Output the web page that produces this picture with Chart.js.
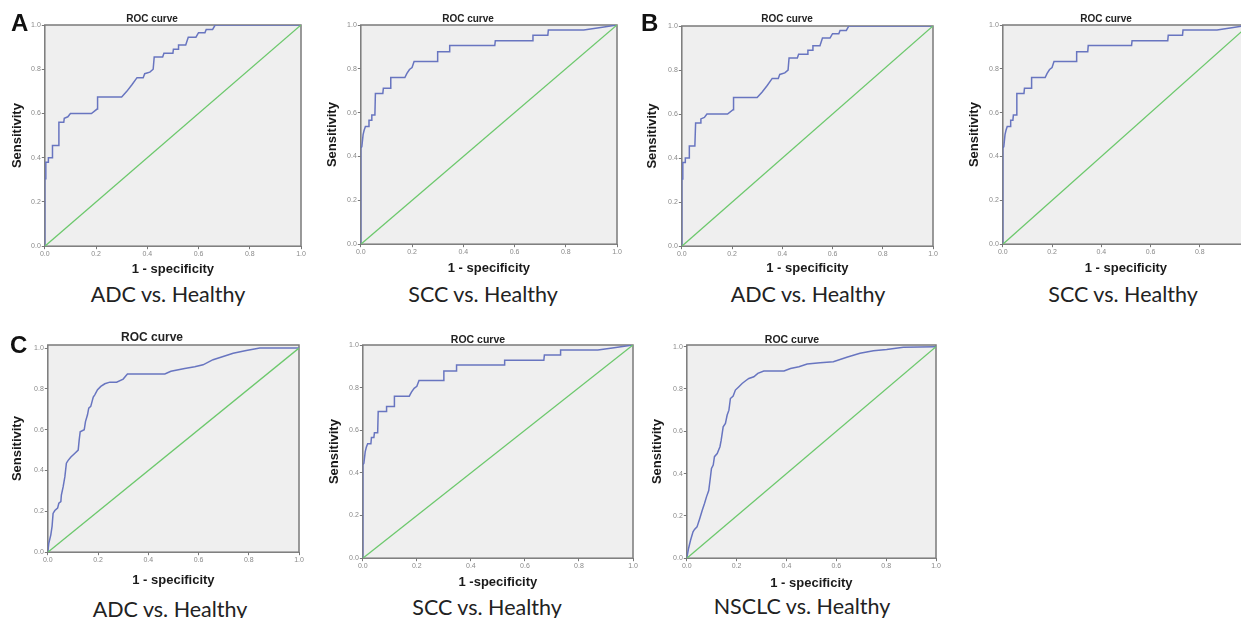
<!DOCTYPE html>
<html>
<head>
<meta charset="utf-8">
<script src="https://cdn.jsdelivr.net/npm/chart.js@4.4.1/dist/chart.umd.min.js"></script>
<style>
  html, body { margin: 0; padding: 0; overflow: hidden; }
  body { width: 1241px; height: 618px; background: #fff; position: relative; font-family: "Liberation Sans", Arial, sans-serif; }
  canvas { position: absolute; }
  .letter { position: absolute; font-weight: bold; font-size: 24px; line-height: 24px; color: #111; }
  .roc { position: absolute; font-weight: bold; color: #222; transform: translate(-50%, -50%); white-space: nowrap; line-height: 1; }
  .cap { position: absolute; font-family: Lato, "Open Sans", sans-serif; font-size: 21.5px; line-height: 1; color: #222; transform: translate(-50%, -50%); white-space: nowrap; }
</style>
</head>
<body>
<script>
// ROC curves: x = 1 - specificity, y = sensitivity
var adc_fpr = [0, 0, 0.004, 0.004, 0.014, 0.014, 0.03, 0.03, 0.052, 0.055, 0.074, 0.076, 0.09, 0.1, 0.182, 0.204, 0.206, 0.30, 0.32, 0.34, 0.36, 0.384, 0.39, 0.41, 0.423, 0.427, 0.46, 0.465, 0.50, 0.502, 0.52, 0.522, 0.55, 0.56, 0.59, 0.60, 0.625, 0.63, 0.655, 0.665, 1.0];
var adc_tpr = [0, 0.305, 0.305, 0.38, 0.38, 0.40, 0.40, 0.455, 0.455, 0.56, 0.56, 0.578, 0.585, 0.60, 0.60, 0.62, 0.675, 0.675, 0.70, 0.73, 0.762, 0.762, 0.78, 0.787, 0.80, 0.855, 0.855, 0.872, 0.872, 0.89, 0.89, 0.91, 0.91, 0.945, 0.945, 0.965, 0.965, 0.98, 0.98, 1.0, 1.0];

var scc_fpr = [0, 0, 0.004, 0.009, 0.013, 0.018, 0.03, 0.032, 0.041, 0.043, 0.055, 0.057, 0.086, 0.088, 0.116, 0.117, 0.172, 0.18, 0.19, 0.2, 0.208, 0.298, 0.30, 0.345, 0.347, 0.523, 0.525, 0.67, 0.672, 0.73, 0.732, 0.87, 0.93, 1.0];
var scc_tpr = [0, 0.438, 0.445, 0.50, 0.52, 0.537, 0.537, 0.566, 0.566, 0.589, 0.589, 0.688, 0.688, 0.711, 0.711, 0.76, 0.76, 0.779, 0.797, 0.806, 0.833, 0.833, 0.878, 0.878, 0.906, 0.906, 0.928, 0.928, 0.953, 0.953, 0.977, 0.977, 0.987, 1.0];

var adc_all_fpr = [0, 0.004, 0.012, 0.017, 0.021, 0.028, 0.039, 0.044, 0.052, 0.054, 0.061, 0.068, 0.074, 0.081, 0.092, 0.108, 0.121, 0.125, 0.129, 0.145, 0.15, 0.158, 0.163, 0.171, 0.181, 0.187, 0.198, 0.211, 0.227, 0.247, 0.274, 0.30, 0.317, 0.466, 0.49, 0.545, 0.585, 0.618, 0.658, 0.698, 0.738, 0.79, 0.844, 1.0];
var adc_all_tpr = [0, 0.044, 0.085, 0.126, 0.19, 0.204, 0.216, 0.24, 0.248, 0.28, 0.32, 0.37, 0.436, 0.45, 0.466, 0.485, 0.50, 0.55, 0.59, 0.60, 0.64, 0.673, 0.706, 0.714, 0.76, 0.771, 0.796, 0.812, 0.825, 0.833, 0.833, 0.848, 0.873, 0.873, 0.886, 0.90, 0.908, 0.918, 0.943, 0.959, 0.975, 0.988, 1.0, 1.0];

var nsclc_fpr = [0, 0.007, 0.015, 0.025, 0.031, 0.041, 0.052, 0.062, 0.071, 0.079, 0.088, 0.095, 0.099, 0.106, 0.111, 0.122, 0.133, 0.138, 0.146, 0.155, 0.162, 0.169, 0.175, 0.186, 0.195, 0.209, 0.222, 0.236, 0.249, 0.269, 0.285, 0.309, 0.39, 0.416, 0.45, 0.483, 0.535, 0.588, 0.642, 0.695, 0.749, 0.802, 0.869, 1.0];
var nsclc_tpr = [0, 0.046, 0.085, 0.125, 0.136, 0.148, 0.188, 0.227, 0.259, 0.29, 0.32, 0.385, 0.424, 0.44, 0.48, 0.495, 0.527, 0.558, 0.621, 0.637, 0.677, 0.70, 0.755, 0.767, 0.795, 0.811, 0.826, 0.839, 0.85, 0.858, 0.874, 0.885, 0.885, 0.897, 0.905, 0.918, 0.924, 0.929, 0.95, 0.969, 0.981, 0.987, 0.997, 1.0];

var ref_fpr = [0, 1];
var ref_tpr = [0, 1];

var tick_values = [0, 0.2, 0.4, 0.6, 0.8, 1.0];

var curve_color = '#6875c0';
var ref_color = '#6cc86c';

// panel layout (pixel boxes of each plot area)
var panels = [
  { letter: 'A', lx: 11, ly: 11, fpr: adc_fpr, tpr: adc_tpr, caption: 'ADC vs. Healthy', xTitle: '1 - specificity',
    left: 45, right: 301, top: 25, bottom: 246, yOff: 27, xOff: 23, yMax: 1, tx: 152, ty: 19, tSize: 10, cx: 168, cy: 295 },
  { fpr: scc_fpr, tpr: scc_tpr, caption: 'SCC vs. Healthy', xTitle: '1 - specificity',
    left: 361, right: 617, top: 25, bottom: 244, yOff: 28, xOff: 24, yMax: 1, tx: 468, ty: 19, tSize: 10, cx: 483, cy: 295 },
  { letter: 'B', lx: 641, ly: 11, fpr: adc_fpr, tpr: adc_tpr, caption: 'ADC vs. Healthy', xTitle: '1 - specificity',
    left: 682, right: 933, top: 26, bottom: 246, yOff: 29, xOff: 22, yMax: 1, tx: 787, ty: 19, tSize: 10, cx: 808, cy: 295 },
  { fpr: scc_fpr, tpr: scc_tpr, caption: 'SCC vs. Healthy', xTitle: '1 - specificity',
    left: 1003, right: 1249, top: 25, bottom: 244, yOff: 28, xOff: 24, yMax: 1, tx: 1106, ty: 19, tSize: 10, cx: 1123, cy: 295 },
  { letter: 'C', lx: 10, ly: 333, fpr: adc_all_fpr, tpr: adc_all_tpr, caption: 'ADC vs. Healthy', xTitle: '1 - specificity',
    left: 48, right: 299, top: 345, bottom: 552, yOff: 30, xOff: 28, yMax: 1.015, tx: 152, ty: 337, tSize: 12, cx: 170, cy: 610 },
  { fpr: scc_fpr, tpr: scc_tpr, caption: 'SCC vs. Healthy', xTitle: '1 -specificity',
    left: 363, right: 633, top: 345, bottom: 558, yOff: 28, xOff: 24, yMax: 1, tx: 478, ty: 339, tSize: 10.5, cx: 487, cy: 608 },
  { fpr: nsclc_fpr, tpr: nsclc_tpr, caption: 'NSCLC  vs. Healthy', xTitle: '1 - specificity',
    left: 687, right: 936, top: 345, bottom: 558, yOff: 29, xOff: 25, yMax: 1.008, tx: 792, ty: 339, tSize: 10.5, cx: 802, cy: 607 }
];

Chart.defaults.font.family = '"Liberation Sans", Arial, sans-serif';

// grey plot area with a frame, like the SPSS output
var plotFrame = {
  id: 'plotFrame',
  beforeDraw: function(chart) {
    var a = chart.chartArea, ctx = chart.ctx;
    ctx.save();
    ctx.fillStyle = '#efefef';
    ctx.fillRect(a.left, a.top, a.right - a.left, a.bottom - a.top);
    ctx.restore();
  },
  beforeDatasetsDraw: function(chart) {
    var a = chart.chartArea, ctx = chart.ctx;
    ctx.save();
    ctx.strokeStyle = '#7a7a7a';
    ctx.lineWidth = 1.5;
    ctx.strokeRect(a.left, a.top, a.right - a.left, a.bottom - a.top);
    ctx.restore();
  }
};

function toPoints(xs, ys) {
  return xs.map(function(x, i) { return { x: x, y: ys[i] }; });
}

function addText(cls, text, x, y, size) {
  var d = document.createElement('div');
  d.className = cls;
  d.textContent = text;
  d.style.left = x + 'px';
  d.style.top = y + 'px';
  if (size) d.style.fontSize = size + 'px';
  document.body.appendChild(d);
}

function makePanel(p) {
  var padTop = 6, padRight = 8;
  var titleSize = 13;
  var yw = p.yOff + titleSize * 1.2 / 2;
  var xh = p.xOff + titleSize * 1.2 / 2;
  var cl = p.left - yw;
  var ct = p.top - padTop;
  var canvas = document.createElement('canvas');
  canvas.width = Math.round(p.right + padRight - cl);
  canvas.height = Math.round(p.bottom + xh - ct);
  canvas.style.left = cl + 'px';
  canvas.style.top = ct + 'px';
  document.body.appendChild(canvas);

  var tickOpts = {
    font: { size: 7 },
    color: '#8a8a8a',
    padding: 1,
    maxRotation: 0,
    autoSkip: false,
    callback: function(v) { return Number(v).toFixed(1); }
  };
  var gridOpts = { drawOnChartArea: false, tickLength: 3, color: '#777' };

  new Chart(canvas, {
    type: 'line',
    data: {
      datasets: [
        { data: toPoints(ref_fpr, ref_tpr), borderColor: ref_color, borderWidth: 1.3, pointRadius: 0, tension: 0 },
        { data: toPoints(p.fpr, p.tpr), borderColor: curve_color, borderWidth: 1.5, pointRadius: 0, tension: 0 }
      ]
    },
    options: {
      responsive: false,
      animation: false,
      events: [],
      layout: { padding: { top: padTop, right: padRight, left: 0, bottom: 0 } },
      plugins: { legend: { display: false }, tooltip: { enabled: false } },
      scales: {
        x: {
          type: 'linear', min: 0, max: 1,
          afterFit: function(s) { s.height = xh; },
          afterBuildTicks: function(s) { s.ticks = tick_values.map(function(v) { return { value: v }; }); },
          ticks: tickOpts,
          grid: gridOpts,
          border: { display: false },
          title: { display: true, text: p.xTitle, color: '#1a1a1a', padding: 0, font: { size: titleSize, weight: 'bold' } }
        },
        y: {
          type: 'linear', min: 0, max: p.yMax,
          afterFit: function(s) { s.width = yw; },
          afterBuildTicks: function(s) { s.ticks = tick_values.map(function(v) { return { value: v }; }); },
          ticks: tickOpts,
          grid: gridOpts,
          border: { display: false },
          title: { display: true, text: 'Sensitivity', color: '#1a1a1a', padding: 0, font: { size: titleSize, weight: 'bold' } }
        }
      }
    },
    plugins: [plotFrame]
  });

  addText('roc', 'ROC curve', p.tx, p.ty, p.tSize);
  addText('cap', p.caption, p.cx, p.cy);
  if (p.letter) addText('letter', p.letter, p.lx, p.ly);
}

panels.forEach(makePanel);
</script>
</body>
</html>
